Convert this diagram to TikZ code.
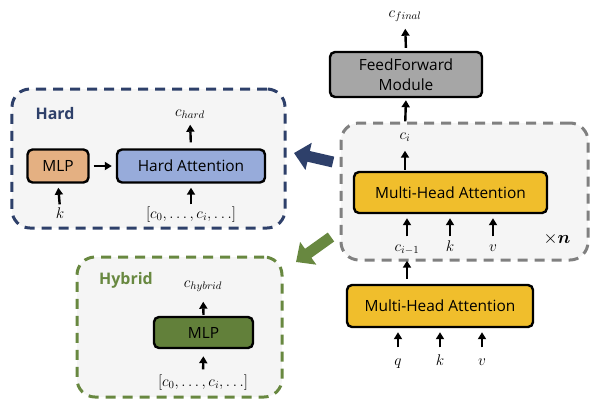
\RequirePackage{fix-cm}
\documentclass[tikz,border=0pt]{standalone}
\usepackage{fontspec}
\setsansfont{Open Sans}
\usepackage{amsmath}
\usepackage{amssymb}
\usetikzlibrary{arrows.meta}

\definecolor{hardblue}{RGB}{46,64,106}
\definecolor{hybgreen}{RGB}{104,136,64}
\definecolor{framegray}{RGB}{128,128,128}
\definecolor{framefill}{RGB}{245,245,245}
\definecolor{mlporange}{RGB}{228,176,130}
\definecolor{attblue}{RGB}{151,171,218}
\definecolor{mhayellow}{RGB}{240,190,44}
\definecolor{ffgray}{RGB}{166,166,166}
\definecolor{mlpgreen}{RGB}{98,128,58}

\begin{document}
\begin{tikzpicture}[x=1bp,y=-1bp]

      \useasboundingbox (0,0) rectangle (597,409);

      % dashed frames
      \begin{scope}[every node/.style={draw,dash pattern=on 10bp off 7bp,line width=3bp,rounded corners=18bp,fill=framefill,inner sep=0pt}]
        \node[draw=hardblue,minimum width=273bp,minimum height=139bp]  (hardframe) at (148.5,158.5) {};
        \node[draw=hybgreen,minimum width=205bp,minimum height=140bp]  (hybframe)  at (179.5,327)   {};
        \node[draw=framegray,minimum width=247bp,minimum height=137bp] (layerframe) at (464.5,191.5) {};
      \end{scope}

      % boxes
      \begin{scope}[every node/.style={draw,line width=2.4bp,rounded corners=5bp,inner sep=0pt,font=\sffamily\fontsize{15.5}{20}\selectfont}]
        \node[fill=mlporange,minimum width=61bp,minimum height=33bp]  (mlp)    at (58,166)     {MLP};
        \node[fill=attblue,minimum width=148bp,minimum height=33bp]   (hardatt) at (191,166)   {Hard Attention};
        \node[fill=mlpgreen,minimum width=99bp,minimum height=31bp]   (gmlp)   at (203.5,332.5) {MLP};
        \node[fill=ffgray,minimum width=152bp,minimum height=45bp,align=center] (ff) at (406,74.5) {FeedForward\\Module};
        \node[fill=mhayellow,minimum width=193bp,minimum height=41bp] (mha)    at (450.5,192.5) {Multi-Head Attention};
        \node[fill=mhayellow,minimum width=186bp,minimum height=42bp] (mhain)  at (440,306)     {Multi-Head Attention};
      \end{scope}

      % titles
      \node[font=\sffamily\bfseries\fontsize{16}{18}\selectfont,text=hardblue] (hardtitle) at (55,114)  {Hard};
      \node[font=\sffamily\bfseries\fontsize{16}{18}\selectfont,text=hybgreen] (hybtitle)  at (126,280) {Hybrid};

      % labels
      \begin{scope}[every node/.style={inner sep=0pt,text height=10bp,text depth=3bp,font=\fontsize{15.5}{18}\selectfont}]
        \node (chard)  at (190,113) {$c_{hard}$};
        \node (kh)     at (60,215)  {$k$};
        \node (ctxh)   at (191,215) {$[c_0,\ldots,c_i,\ldots]$};
        \node (chyb)   at (203,284) {$c_{hybrid}$};
        \node (ctxy)   at (203,383) {$[c_0,\ldots,c_i,\ldots]$};
        \node (cfinal) at (405,14)  {$c_{final}$};
        \node (ci)     at (405,136) {$c_i$};
        \node (cim)    at (407,248) {$c_{i-1}$};
        \node (kl)     at (450,248) {$k$};
        \node (vl)     at (493,248) {$v$};
        \node (q)      at (398,362) {$q$};
        \node (kin)    at (440,362) {$k$};
        \node (vin)    at (482,362) {$v$};
        \node[font=\fontsize{18}{20}\selectfont] (times) at (557,240) {$\times\boldsymbol{n}$};
      \end{scope}

      % small arrows
      \begin{scope}[every edge/.style={draw,line width=2.4bp,-{Triangle[width=8bp,length=7bp]}}]
        \path (mlp)        edge[shorten <=4bp,shorten >=4bp] (hardatt);
        \path (hardatt.north) edge[shorten <=6bp,shorten >=5bp] (chard.south);
        \path (kh.north)   edge[shorten <=4bp,shorten >=4bp] (mlp.south);
        \path (ctxh.north) edge[shorten <=4bp,shorten >=4bp] (hardatt.south);
        \path (gmlp.north) edge[shorten <=1bp,shorten >=11bp] (chyb.south);
        \path (ctxy.north) edge[shorten <=7bp,shorten >=7bp] (gmlp.south);
        \path (ff.north)   edge[shorten <=3bp,shorten >=8bp] (cfinal.south);
        \path (ci.north)   edge[shorten <=8bp,shorten >=2bp] (ff.south);
        \path (mha.north -| ci.south) edge[shorten <=1bp,shorten >=8bp] (ci.south);
        \path (cim.north)  edge[shorten <=5bp,shorten >=4bp] (mha.south -| cim.north);
        \path (kl.north)   edge[shorten <=5bp,shorten >=4bp] (mha.south -| kl.north);
        \path (vl.north)   edge[shorten <=5bp,shorten >=4bp] (mha.south -| vl.north);
        \path (mhain.north -| cim.south) edge[shorten <=5bp,shorten >=6bp] (cim.south);
        \path (q.north)    edge[shorten <=8bp,shorten >=4bp] (mhain.south -| q.north);
        \path (kin.north)  edge[shorten <=8bp,shorten >=4bp] (mhain.south -| kin.north);
        \path (vin.north)  edge[shorten <=8bp,shorten >=4bp] (mhain.south -| vin.north);
      \end{scope}

      % big arrows between frames
      \coordinate (navytail)  at (333,162);
      \coordinate (navytip)   at (294,153);
      \coordinate (greentail) at (331,237);
      \coordinate (greentip)  at (296,262);
      \draw[hardblue,line width=11bp,-{Triangle[width=27bp,length=15bp]}] (navytail) -- (navytip);
      \draw[hybgreen,line width=11bp,-{Triangle[width=27bp,length=15bp]}] (greentail) -- (greentip);

    \end{tikzpicture}
\end{document}
